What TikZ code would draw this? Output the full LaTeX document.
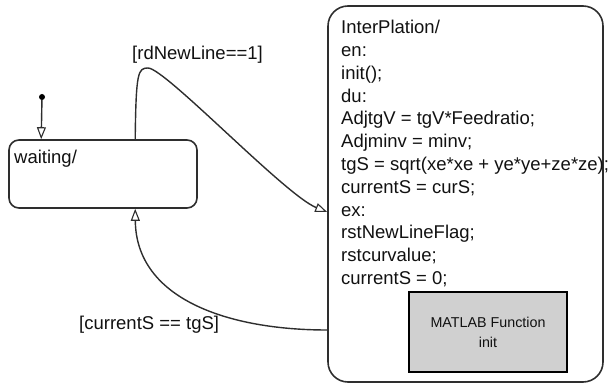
\documentclass[tikz,border=0pt]{standalone}
\usepackage{fontspec}
\setmainfont{Liberation Sans}
\usetikzlibrary{arrows.meta}
\definecolor{ln}{HTML}{2E2E2E}
\definecolor{tx}{HTML}{111111}
\definecolor{fnfill}{HTML}{D0D0D0}
\tikzset{
  statebox/.style={draw=ln, line width=1.6pt, rounded corners=#1, inner sep=0pt},
  txt/.style={text=tx, inner sep=0pt, font=\fontsize{18.5}{22.8}\selectfont},
  trans/.style={draw=ln, line width=1.4pt,
    -{Triangle[open, length=12pt, width=9pt, fill=white, line width=1.1pt]}},
  fnbox/.style={draw=black, line width=2.8pt, fill=fnfill, inner sep=0pt,
    minimum width=158pt, minimum height=80pt, align=center, text=tx,
    font=\fontsize{14.3}{20}\selectfont},
}
\begin{document}
\begin{tikzpicture}[x=1pt, y=-1pt]
\useasboundingbox (0,0) rectangle (610,385);
% states
\node[statebox=10pt, minimum width=188pt, minimum height=68pt] (waiting) at (103,174) {};
\node[txt, anchor=base west] (wlab) at (14,164) {waiting/};
\node[statebox=20pt, minimum width=275pt, minimum height=376pt] (interp) at (465.5,194) {};
\node[txt, anchor=north west, align=left] (ilab) at (341,20) {InterPlation/\\en:\\init();\\du:\\AdjtgV = tgV*Feedratio;\\Adjminv = minv;\\tgS = sqrt(xe*xe + ye*ye+ze*ze);\\currentS = curS;\\ex:\\rstNewLineFlag;\\rstcurvalue;\\currentS = 0;};
\node[fnbox] (fn) at (488,332) {MATLAB Function\\init};
% initial transition
\node[circle, fill=black, inner sep=0pt, minimum size=6pt] (init) at (42,97) {};
\draw[trans] (init) -- ([xshift=33pt]waiting.north west);
% transitions
\draw[trans] ([xshift=127pt]waiting.north west) .. controls (136,72) and (138,68) .. (148,68)
  .. controls (165,68) and (285,195) .. ([yshift=-18pt]interp.west);
\node[txt, anchor=west] (g1) at (132,55) {[rdNewLine==1]};
\draw[trans] ([yshift=-136pt]interp.west) .. controls (230,330) and (136,300) .. ([xshift=127pt]waiting.south west);
\node[txt, anchor=west] (g2) at (79,325) {[currentS == tgS]};
\end{tikzpicture}
\end{document}
